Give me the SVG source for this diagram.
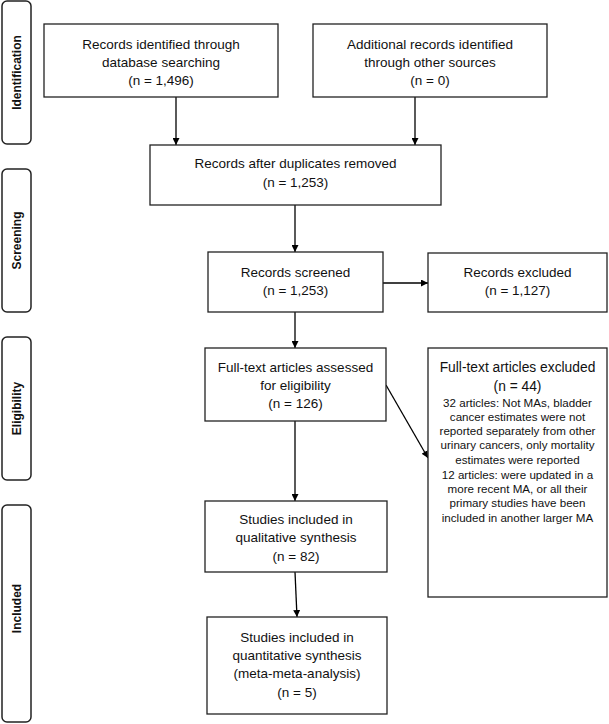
<svg xmlns="http://www.w3.org/2000/svg" width="609" height="724" viewBox="0 0 609 724">
<defs>
<marker id="ah" viewBox="0 0 10 10" refX="10" refY="5" markerWidth="7" markerHeight="7" markerUnits="userSpaceOnUse" orient="auto">
<path d="M0,0 L10,5 L0,10 z" fill="#000"/>
</marker>
<style>
.box{fill:#fff;stroke:#222;stroke-width:1.3}
.side{fill:#fff;stroke:#222;stroke-width:1.5}
.t{font-family:"Liberation Sans",Arial,sans-serif;font-size:13.5px;fill:#111;text-anchor:middle}
.s{font-family:"Liberation Sans",Arial,sans-serif;font-size:11.6px;fill:#111;text-anchor:middle}
.lab{font-family:"Liberation Sans",Arial,sans-serif;font-size:12px;font-weight:bold;fill:#111;text-anchor:middle}
.c{stroke:#000;stroke-width:1.3;fill:none;marker-end:url(#ah)}
</style>
</defs>
<rect width="609" height="724" fill="#fff"/>
<g id="phase-identification"><rect class="side" x="2" y="1" width="29" height="143" rx="5"/><text class="lab" transform="translate(21,72.5) rotate(-90)">Identification</text></g>
<g id="phase-screening"><rect class="side" x="2" y="169" width="29" height="143" rx="5"/><text class="lab" transform="translate(21,240.5) rotate(-90)">Screening</text></g>
<g id="phase-eligibility"><rect class="side" x="2" y="337" width="29" height="143" rx="5"/><text class="lab" transform="translate(21,408.5) rotate(-90)">Eligibility</text></g>
<g id="phase-included"><rect class="side" x="2" y="505" width="29" height="217" rx="5"/><text class="lab" transform="translate(21,608.5) rotate(-90)">Included</text></g>

<g id="connectors">
<line class="c" x1="176" y1="97" x2="176" y2="145"/>
<line class="c" x1="415" y1="97" x2="415" y2="145"/>
<line class="c" x1="295" y1="205" x2="295" y2="252"/>
<line class="c" x1="383" y1="283" x2="428" y2="283"/>
<line class="c" x1="295" y1="312" x2="295" y2="348"/>
<line class="c" x1="386" y1="385" x2="428" y2="458"/>
<line class="c" x1="295" y1="421" x2="295" y2="501"/>
<line class="c" x1="295" y1="572" x2="297" y2="617"/>
</g>

<g id="n-database"><rect class="box" x="44" y="24" width="234" height="73"/>
<text class="t" x="161" y="49">Records identified through</text>
<text class="t" x="161" y="67">database searching</text>
<text class="t" x="161" y="85">(n = 1,496)</text></g>

<g id="n-other"><rect class="box" x="313" y="24" width="234" height="73"/>
<text class="t" x="430" y="49">Additional records identified</text>
<text class="t" x="430" y="67">through other sources</text>
<text class="t" x="430" y="85">(n = 0)</text></g>

<g id="n-duplicates"><rect class="box" x="150" y="145" width="291" height="60"/>
<text class="t" x="295.5" y="168">Records after duplicates removed</text>
<text class="t" x="295.5" y="187">(n = 1,253)</text></g>

<g id="n-screened"><rect class="box" x="208" y="252" width="175" height="60"/>
<text class="t" x="295.5" y="277">Records screened</text>
<text class="t" x="295.5" y="295">(n = 1,253)</text></g>

<g id="n-excluded"><rect class="box" x="428" y="253" width="179" height="59"/>
<text class="t" x="517.5" y="277">Records excluded</text>
<text class="t" x="517.5" y="295">(n = 1,127)</text></g>

<g id="n-fulltext"><rect class="box" x="205" y="348" width="181" height="73"/>
<text class="t" x="295.5" y="372">Full-text articles assessed</text>
<text class="t" x="295.5" y="390">for eligibility</text>
<text class="t" x="295.5" y="408">(n = 126)</text></g>

<g id="n-ft-excluded"><rect class="box" x="428" y="348" width="179" height="249"/>
<text class="t" x="517.5" y="372" style="font-size:13.8px">Full-text articles excluded</text>
<text class="t" x="517.5" y="391" style="font-size:13.8px">(n = 44)</text>
<text class="s" x="517.5" y="407">32 articles: Not MAs, bladder</text>
<text class="s" x="517.5" y="421">cancer estimates were not</text>
<text class="s" x="517.5" y="435">reported separately from other</text>
<text class="s" x="517.5" y="449">urinary cancers, only mortality</text>
<text class="s" x="517.5" y="464">estimates were reported</text>
<text class="s" x="517.5" y="479">12 articles: were updated in a</text>
<text class="s" x="517.5" y="493">more recent MA, or all their</text>
<text class="s" x="517.5" y="507">primary studies have been</text>
<text class="s" x="517.5" y="522">included in another larger MA</text></g>

<g id="n-qualitative"><rect class="box" x="205" y="501" width="182" height="71"/>
<text class="t" x="296" y="524">Studies included in</text>
<text class="t" x="296" y="542">qualitative synthesis</text>
<text class="t" x="296" y="561">(n = 82)</text></g>

<g id="n-quantitative"><rect class="box" x="207" y="617" width="180" height="97"/>
<text class="t" x="297" y="642">Studies included in</text>
<text class="t" x="297" y="660">quantitative synthesis</text>
<text class="t" x="297" y="678">(meta-meta-analysis)</text>
<text class="t" x="297" y="697">(n = 5)</text></g>
</svg>
